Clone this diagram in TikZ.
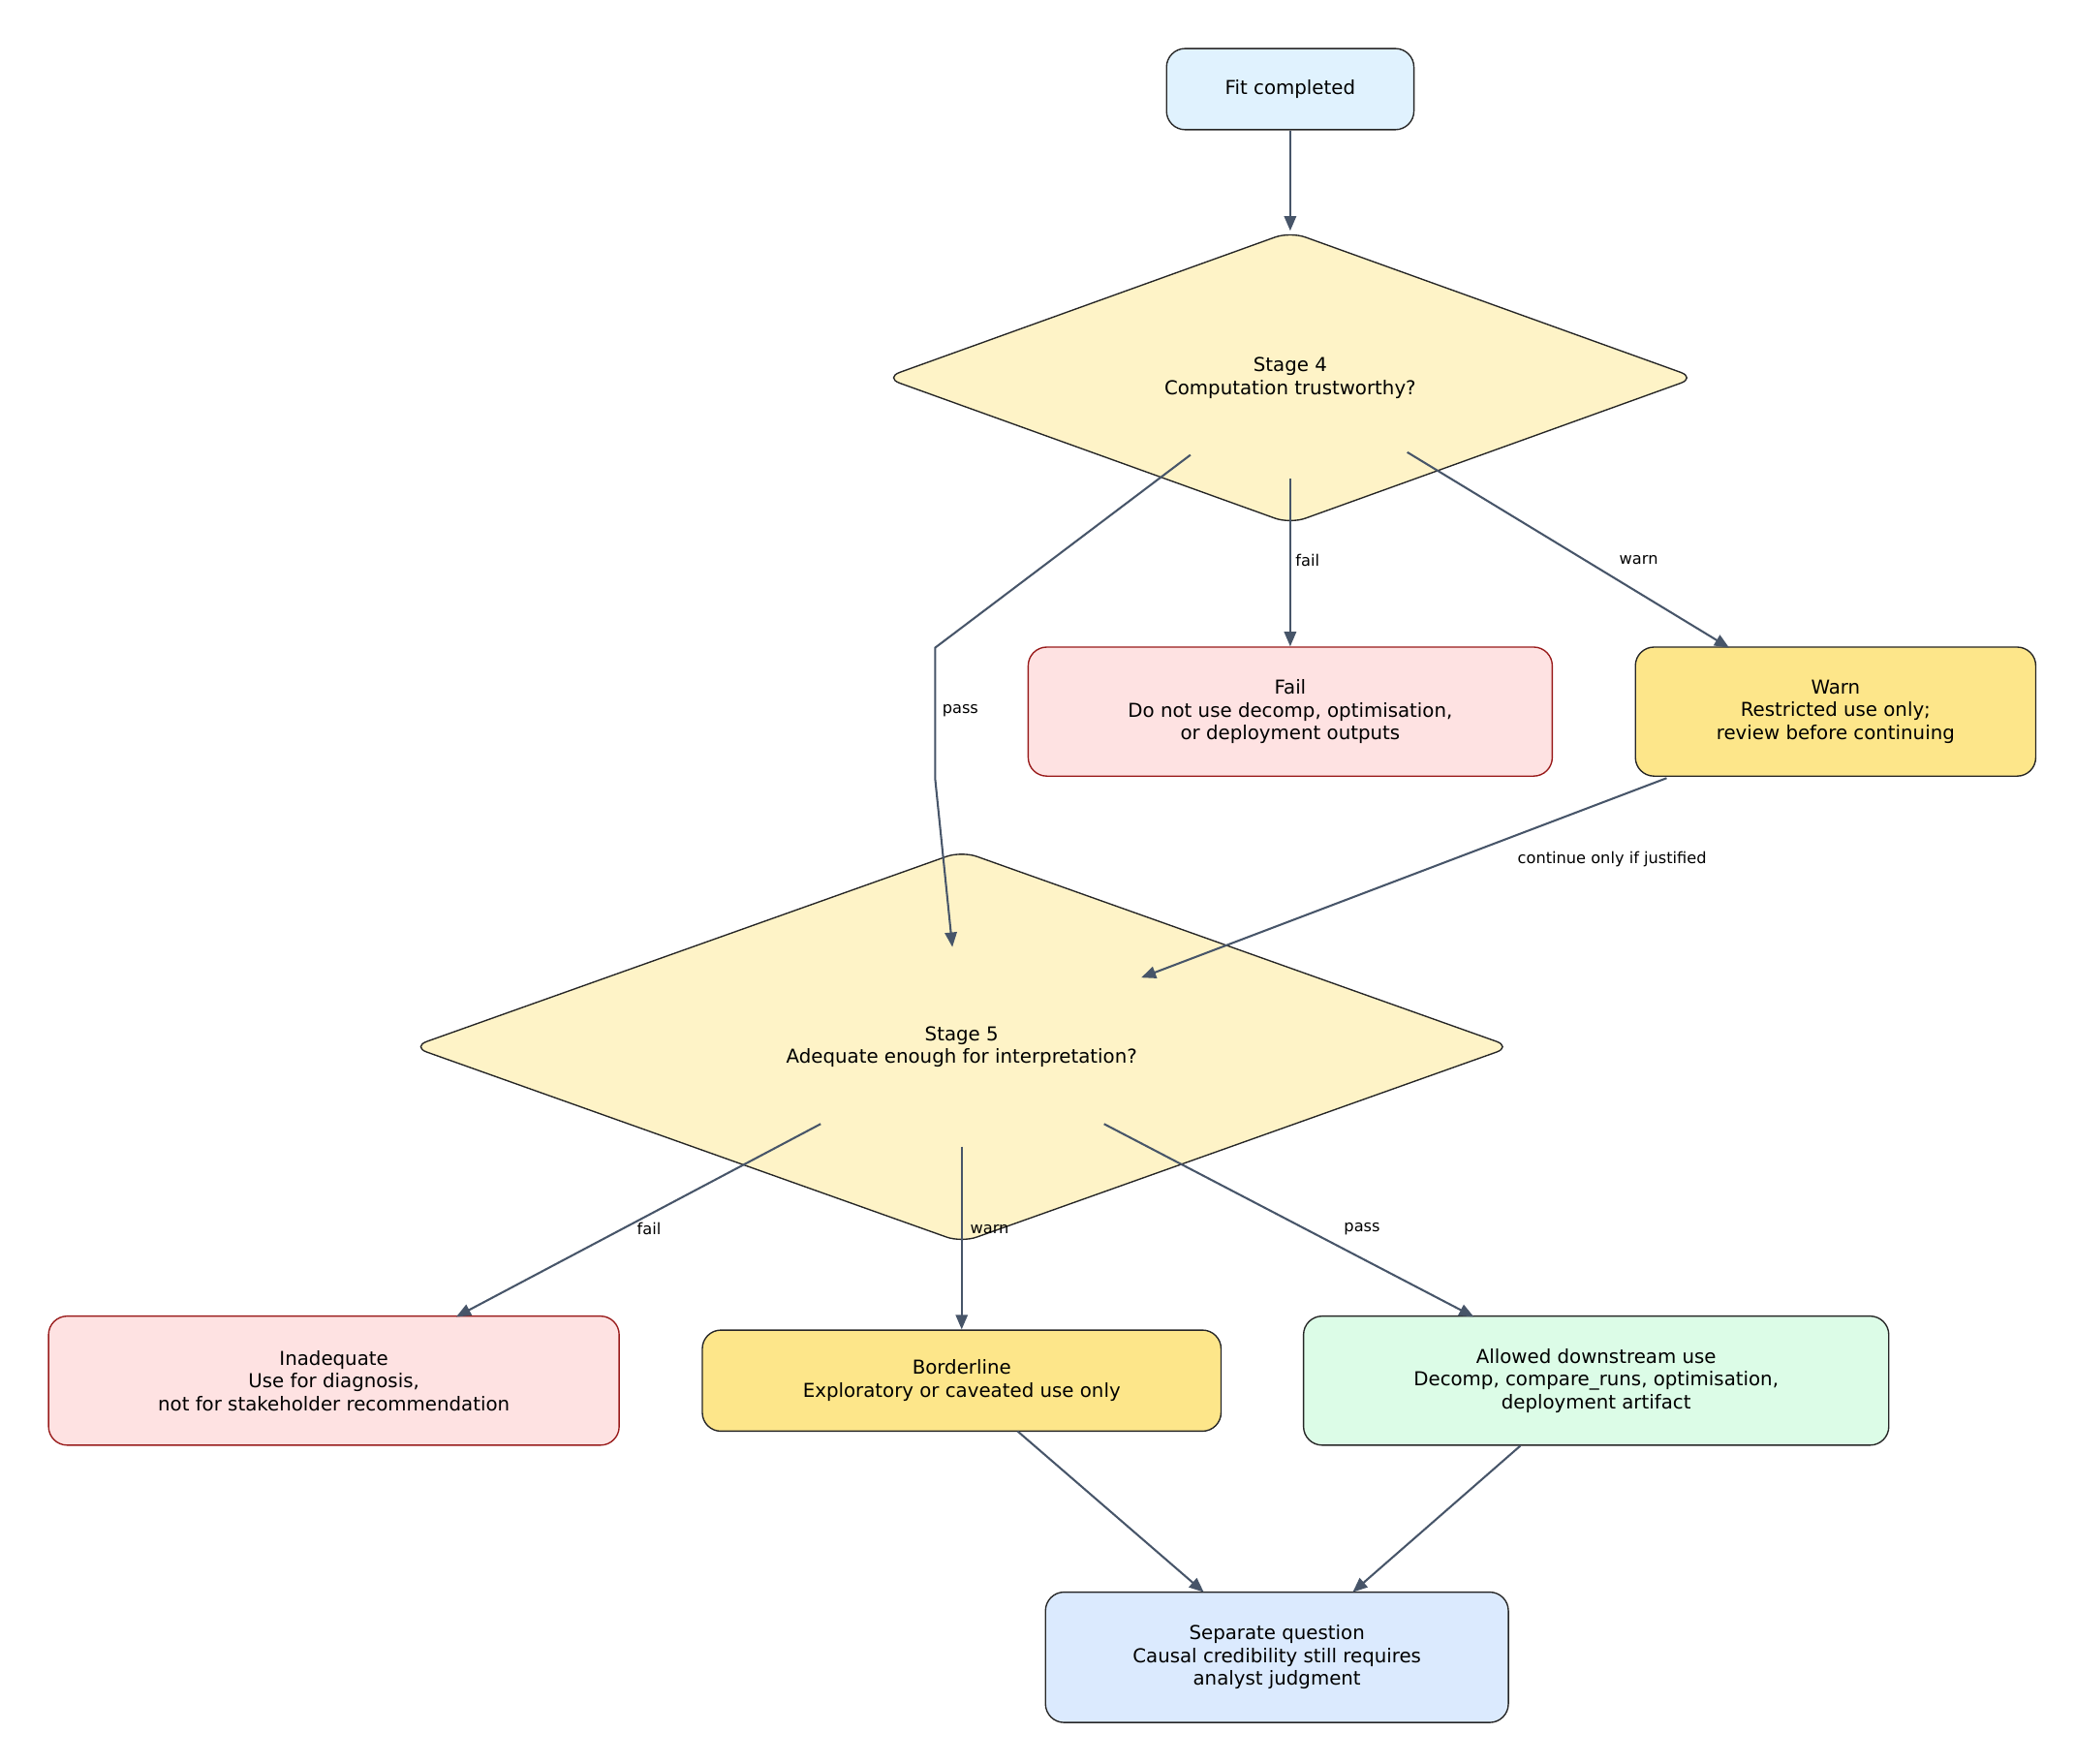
\documentclass[tikz,border=0pt]{standalone}
\usepackage{fontspec}
\setmainfont{DejaVu Sans}
\usetikzlibrary{shapes.geometric,arrows.meta}
\definecolor{edgec}{HTML}{475569}
\definecolor{cfit}{HTML}{E0F2FE}
\definecolor{cdia}{HTML}{FEF3C7}
\definecolor{cfail}{HTML}{FEE2E2}
\definecolor{bfail}{HTML}{991B1B}
\definecolor{cwarn}{HTML}{FDE68A}
\definecolor{cok}{HTML}{DCFCE7}
\definecolor{csep}{HTML}{DBEAFE}
\begin{document}
\begin{tikzpicture}[x=0.5pt,y=-0.5pt,
  box/.style={draw=black!85,rounded corners=7pt,align=center,font=\fontsize{7.2}{8.6}\selectfont,inner sep=0pt,line width=0.5pt},
  dia/.style={diamond,draw=black!85,fill=cdia,rounded corners=6pt,align=center,font=\fontsize{7.2}{8.6}\selectfont,inner sep=0pt,line width=0.5pt},
  arr/.style={draw=edgec,line width=0.75pt,-{Triangle[length=5.5pt,width=4.5pt]}},
  lab/.style={font=\fontsize{5.9}{7}\selectfont,inner sep=1pt}]
\useasboundingbox (0,0) rectangle (1560,1326);
\node[box,fill=cfit,minimum width=93pt,minimum height=30.5pt] (fit) at (970,67) {Fit completed};
\node[dia,minimum width=305pt,minimum height=72.5pt] (s4) at (970,284) {Stage 4\\Computation trustworthy?};
\node[box,fill=cfail,draw=bfail,minimum width=197pt,minimum height=48.5pt] (fail) at (970,535) {Fail\\Do not use decomp, optimisation,\\or deployment outputs};
\node[box,fill=cwarn,minimum width=150.5pt,minimum height=48.5pt] (warn) at (1380,535) {Warn\\Restricted use only;\\review before continuing};
\node[dia,minimum width=413.5pt,minimum height=74.5pt] (s5) at (723,787) {Stage 5\\Adequate enough for interpretation?};
\node[box,fill=cfail,draw=bfail,minimum width=214.5pt,minimum height=48.5pt] (inad) at (251,1038) {Inadequate\\Use for diagnosis,\\not for stakeholder recommendation};
\node[box,fill=cwarn,minimum width=195pt,minimum height=38pt] (bord) at (723,1038) {Borderline\\Exploratory or caveated use only};
\node[box,fill=cok,minimum width=220pt,minimum height=48.5pt] (ok) at (1200,1038) {Allowed downstream use\\Decomp, compare\_runs, optimisation,\\deployment artifact};
\node[box,fill=csep,minimum width=174pt,minimum height=49pt] (sep) at (960,1246) {Separate question\\Causal credibility still requires\\analyst judgment};
\path[arr] (fit) -- (s4.north);
\coordinate (p1) at (703,487); \coordinate (p2) at (703,585);
\path[arr] (895,342) -- (p1) -- (p2) -- (716,712);
\node[lab] (lpass) at (722,534) {pass};
\path[arr] (970,360) -- (fail.north);
\node[lab] (lfail) at (983,421) {fail};
\path[arr] (1058,340) -- (1300,487);
\node[lab] (lwarn) at (1232,421) {warn};
\path[arr] (1253,585) -- (858,735);
\node[lab] (lcont) at (1212,646) {continue only if justified};
\path[arr] (617,845) -- (343,990);
\node[lab] (l5f) at (488,924) {fail};
\path[arr] (723,862) -- (bord.north);
\node[lab] (l5w) at (744,924) {warn};
\path[arr] (830,845) -- (1108,990);
\node[lab] (l5p) at (1024,924) {pass};
\path[arr] (765,1076) -- (905,1197);
\path[arr] (1143,1087) -- (1017,1197);
\end{tikzpicture}
\end{document}
